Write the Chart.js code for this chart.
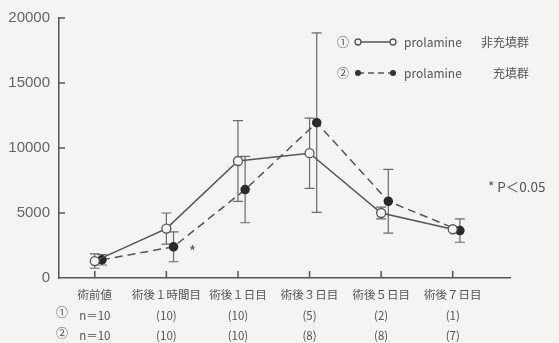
<!DOCTYPE html>
<html>
<head>
<meta charset="utf-8">
<script src="https://cdn.jsdelivr.net/npm/chart.js@4"></script>
<style>
html,body{margin:0;padding:0;background:#f4f4f2;}
#wrap{width:559px;height:343px;position:relative;}
</style>
</head>
<body>
<div id="wrap"><canvas id="c" width="559" height="343"></canvas></div>
<script>
const categories = ['術前値','術後１時間目','術後１日目','術後３日目','術後５日目','術後７日目'];
const nRow1 = ['n＝10','(10)','(10)','(5)','(2)','(1)'];
const nRow2 = ['n＝10','(10)','(10)','(8)','(8)','(7)'];
const mean1 = [1300, 3800, 9000, 9600, 5000, 3750];
const sd1   = [550, 1200, 3100, 2700, 450, 0];
const mean2 = [1400, 2400, 6800, 11950, 5900, 3650];
const sd2   = [400, 1150, 2550, 6900, 2450, 900];
const yTicks = [0, 5000, 10000, 15000, 20000];
const seriesNames = ['prolamine 非充填群', 'prolamine 充填群'];
const offset2 = 0.1;

const INK = '#555';
const BG = '#f4f4f2';
const JP = '"Noto Sans CJK JP", "Noto Sans", sans-serif';

const errPlugin = {
  id: 'errbars',
  beforeDatasetsDraw(chart) {
    const ctx = chart.ctx, xs = chart.scales.x, ys = chart.scales.y;
    ctx.save();
    ctx.strokeStyle = '#6a6a6a';
    ctx.lineWidth = 1.2;
    const draw = (means, sds, off) => {
      means.forEach((m, i) => {
        if (!sds[i]) return;
        const x = xs.getPixelForValue(i + off);
        const yt = ys.getPixelForValue(m + sds[i]);
        const yb = ys.getPixelForValue(m - sds[i]);
        ctx.beginPath();
        ctx.moveTo(x, yt); ctx.lineTo(x, yb);
        ctx.moveTo(x - 5, yt); ctx.lineTo(x + 5, yt);
        ctx.moveTo(x - 5, yb); ctx.lineTo(x + 5, yb);
        ctx.stroke();
      });
    };
    draw(mean1, sd1, 0);
    draw(mean2, sd2, offset2);
    ctx.restore();
  },
  afterDraw(chart) {
    const ctx = chart.ctx, xs = chart.scales.x, ys = chart.scales.y;
    const area = chart.chartArea;
    ctx.save();
    ctx.strokeStyle = INK;
    ctx.lineWidth = 1.5;
    // inward tick marks
    ctx.beginPath();
    categories.forEach((c, i) => {
      const x = xs.getPixelForValue(i);
      ctx.moveTo(x, area.bottom); ctx.lineTo(x, area.bottom - 7);
    });
    yTicks.forEach(v => {
      if (v === 0) return;
      const y = ys.getPixelForValue(v);
      ctx.moveTo(area.left, y); ctx.lineTo(area.left + 6, y);
    });
    ctx.stroke();

    // row labels
    ctx.fillStyle = INK;
    ctx.font = '12px ' + JP;
    ctx.textAlign = 'center';
    ctx.textBaseline = 'middle';
    ctx.fillText('①', 62, 312);
    ctx.fillText('②', 62, 333);

    // legend
    const lx1 = 358, lx2 = 393;
    ctx.font = '12px ' + JP;
    ctx.fillText('①', 343, 42);
    ctx.fillText('②', 343, 73);
    ctx.lineWidth = 1.3;
    ctx.beginPath(); ctx.moveTo(lx1, 42); ctx.lineTo(lx2, 42); ctx.stroke();
    ctx.setLineDash([6, 4]);
    ctx.beginPath(); ctx.moveTo(lx1, 73); ctx.lineTo(lx2, 73); ctx.stroke();
    ctx.setLineDash([]);
    [lx1, lx2].forEach(x => {
      ctx.beginPath(); ctx.arc(x, 42, 3, 0, Math.PI * 2);
      ctx.fillStyle = BG; ctx.fill(); ctx.stroke();
      ctx.beginPath(); ctx.arc(x, 73, 3, 0, Math.PI * 2);
      ctx.fillStyle = '#333'; ctx.fill();
    });
    ctx.fillStyle = INK;
    ctx.textAlign = 'left';
    ctx.fillText('prolamine', 404, 42);
    ctx.fillText('prolamine', 404, 73);
    ctx.textAlign = 'right';
    ctx.fillText('非充填群', 529, 42);
    ctx.fillText('充填群', 529, 73);

    // significance notes
    ctx.textAlign = 'left';
    ctx.font = '13.5px ' + JP;
    ctx.fillText('* P＜0.05', 488, 187);
    ctx.font = '15px ' + JP;
    ctx.fillText('*', 189, 251);
    ctx.restore();
  }
};

const pts = (means, off) => means.map((m, i) => ({ x: i + off, y: m }));

new Chart(document.getElementById('c'), {
  type: 'line',
  data: {
    datasets: [
      {
        label: seriesNames[0],
        data: pts(mean1, 0),
        borderColor: INK,
        borderWidth: 1.5,
        pointRadius: 4.5,
        pointBackgroundColor: BG,
        pointBorderColor: INK,
        pointBorderWidth: 1.3,
        tension: 0
      },
      {
        label: seriesNames[1],
        data: pts(mean2, offset2),
        borderColor: INK,
        borderWidth: 1.5,
        borderDash: [8, 5],
        pointRadius: 4,
        pointBackgroundColor: '#2a2a2a',
        pointBorderColor: '#2a2a2a',
        tension: 0
      }
    ]
  },
  options: {
    responsive: false,
    animation: false,
    layout: { padding: { top: 17, right: 49, left: 0, bottom: 0 } },
    plugins: { legend: { display: false }, tooltip: { enabled: false } },
    scales: {
      x: {
        type: 'linear',
        min: -0.5,
        max: 5.8,
        afterBuildTicks: s => { s.ticks = categories.map((c, i) => ({ value: i })); },
        afterFit: s => { s.height = 65; },
        grid: { display: false, drawTicks: false },
        border: { display: true, color: INK, width: 1.5 },
        ticks: {
          autoSkip: false,
          maxRotation: 0,
          padding: 7,
          color: INK,
          font: { size: 11.5, family: JP, lineHeight: 1.75 },
          callback: v => [categories[v], nRow1[v], nRow2[v]]
        }
      },
      y: {
        min: 0,
        max: 20000,
        afterBuildTicks: s => { s.ticks = yTicks.map(v => ({ value: v })); },
        afterFit: s => { s.width = 59; },
        grid: { display: false, drawTicks: false },
        border: { display: true, color: INK, width: 1.5 },
        ticks: {
          padding: 9,
          color: '#666',
          font: { size: 15, family: '"Liberation Sans", sans-serif' },
          callback: v => String(v)
        }
      }
    }
  },
  plugins: [errPlugin]
});
</script>
</body>
</html>
